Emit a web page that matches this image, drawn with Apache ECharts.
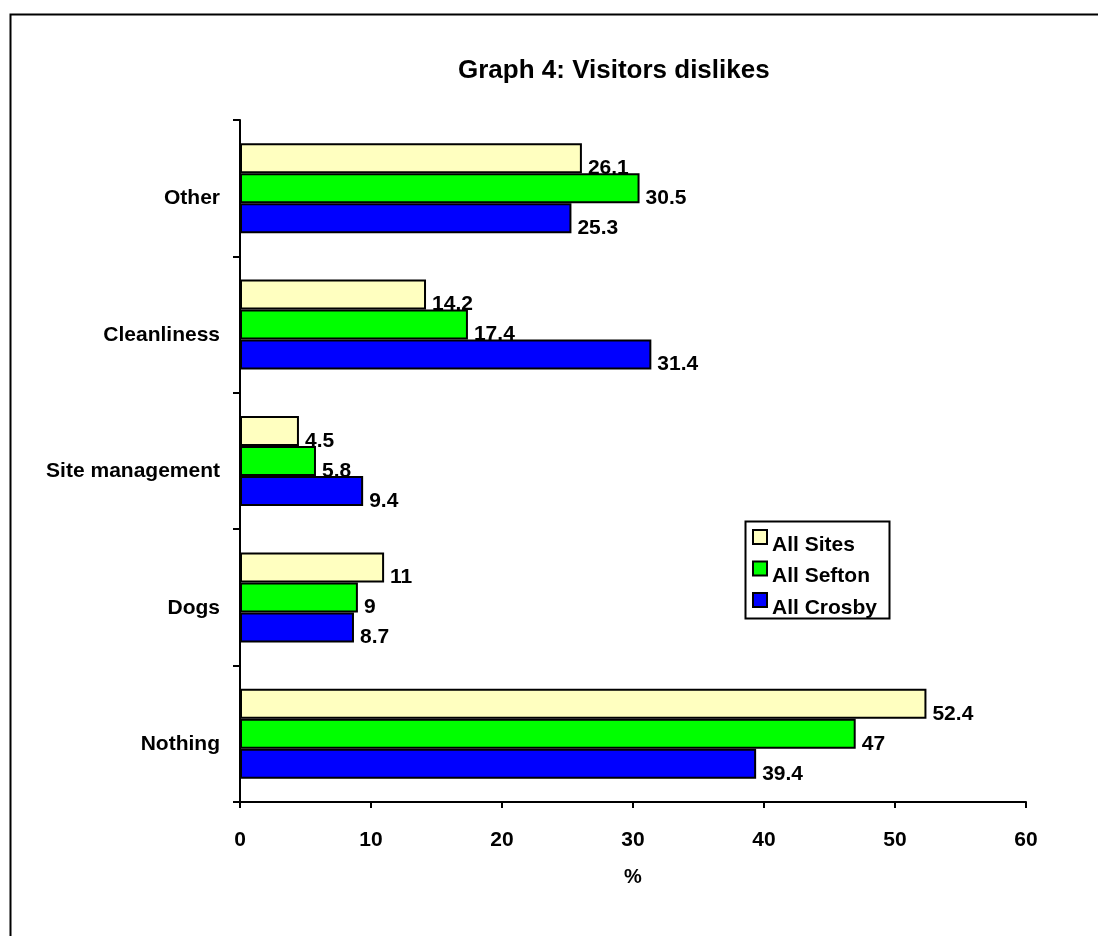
<!DOCTYPE html>
<html>
<head>
<meta charset="utf-8">
<script src="https://cdn.jsdelivr.net/npm/echarts@6/dist/echarts.min.js"></script>
<style>
html,body{margin:0;padding:0;background:#fff;}
#chart{width:1098px;height:936px;}
</style>
</head>
<body>
<div id="chart"></div>
<script>
const titleText = 'Graph 4: Visitors dislikes';
const categories = ['Nothing', 'Dogs', 'Site management', 'Cleanliness', 'Other'];
const seriesNames = ['All Sites', 'All Sefton', 'All Crosby'];
const allSites = [52.4, 11, 4.5, 14.2, 26.1];
const allSefton = [47, 9, 5.8, 17.4, 30.5];
const allCrosby = [39.4, 8.7, 9.4, 31.4, 25.3];
const xTicks = [0, 10, 20, 30, 40, 50, 60];
const axisName = '%';

const FONT = '"Liberation Sans", Arial, sans-serif';
const colors = ['#FFFFC0', '#00FF00', '#0000FF'];
const dataSets = [allSites, allSefton, allCrosby];

const chart = echarts.init(document.getElementById('chart'), null, {renderer: 'canvas'});

const series = seriesNames.map((name, i) => ({
  name: name,
  type: 'bar',
  data: dataSets[i],
  z: 2 + i,
  barWidth: 30,
  barGap: '0%',
  itemStyle: { color: colors[i], borderColor: '#000', borderWidth: 2 },
  label: {
    show: true,
    position: 'right',
    distance: 6,
    offset: [0, 10],
    color: '#000',
    fontFamily: FONT,
    fontWeight: 'bold',
    fontSize: 21
  },
  emphasis: { disabled: true }
}));

chart.setOption({
  animation: false,
  backgroundColor: '#fff',
  title: {
    text: titleText,
    left: 458,
    top: 58,
    padding: 0,
    textStyle: { fontFamily: FONT, fontWeight: 'bold', fontSize: 26, color: '#000' }
  },
  legend: {
    orient: 'vertical',
    left: 752,
    top: 529,
    padding: 0,
    itemGap: 5,
    itemWidth: 14,
    itemHeight: 14,
    icon: 'rect',
    data: seriesNames,
    selectedMode: false,
    itemStyle: { borderColor: '#000', borderWidth: 2 },
    formatter: '{t|{name}}',
    textStyle: {
      fontFamily: FONT, fontWeight: 'bold', fontSize: 20, color: '#000',
      rich: { t: { fontFamily: FONT, fontWeight: 'bold', fontSize: 21, color: '#000', padding: [16, 0, 0, 0] } }
    }
  },
  grid: { left: 240, right: 72, top: 120, bottom: 134, containLabel: false },
  xAxis: {
    type: 'value',
    min: xTicks[0],
    max: xTicks[xTicks.length - 1],
    interval: xTicks[1] - xTicks[0],
    name: axisName,
    nameLocation: 'middle',
    nameGap: 65,
    nameTextStyle: { fontFamily: FONT, fontWeight: 'bold', fontSize: 20, color: '#000' },
    splitLine: { show: false },
    axisLine: { show: true, lineStyle: { color: '#000', width: 2 } },
    axisTick: { show: true, length: 6, lineStyle: { color: '#000', width: 2 } },
    axisLabel: { margin: 28, fontFamily: FONT, fontWeight: 'bold', fontSize: 21, color: '#000' }
  },
  yAxis: {
    type: 'category',
    data: categories,
    axisLine: { show: true, lineStyle: { color: '#000', width: 2 } },
    axisTick: { show: true, length: 7, lineStyle: { color: '#000', width: 2 } },
    axisLabel: { margin: 20, fontFamily: FONT, fontWeight: 'bold', fontSize: 21, color: '#000', verticalAlign: 'top' },
    splitLine: { show: false }
  },
  graphic: [
    { type: 'rect', left: 8, top: 12, shape: { width: 1200, height: 1000 }, style: { fill: null, stroke: '#000', lineWidth: 2 }, z: 0, silent: true },
    { type: 'rect', left: 740, top: 618, shape: { width: 150, height: 14 }, style: { fill: '#fff' }, z: 100, silent: true },
    { type: 'rect', left: 743, top: 519, shape: { width: 144, height: 97 }, style: { fill: null, stroke: '#000', lineWidth: 2 }, z: 101, silent: true }
  ],
  series: series
});
</script>
</body>
</html>
